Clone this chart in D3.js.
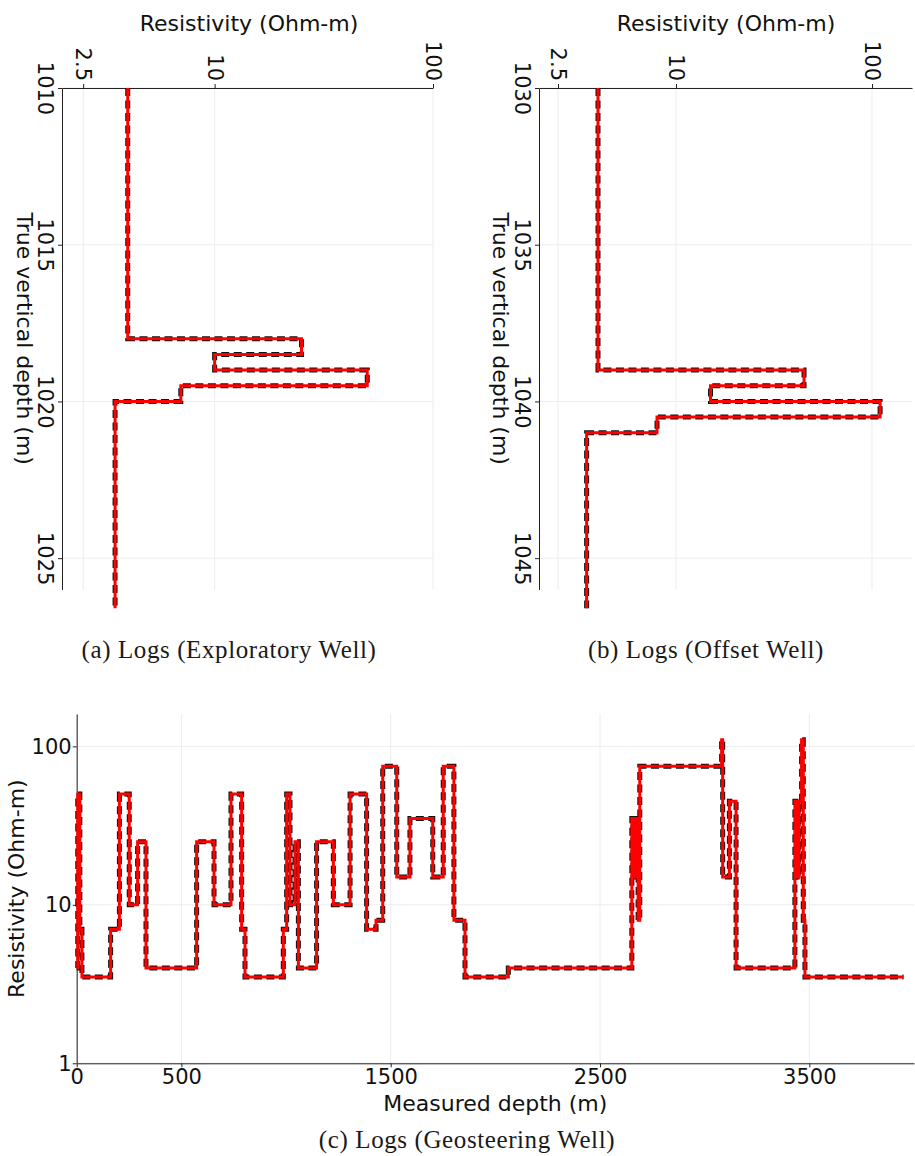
<!DOCTYPE html>
<html>
<head>
<meta charset="utf-8">
<script src="https://cdn.jsdelivr.net/npm/d3@7"></script>
<style>
  body { margin: 0; background: #fff; }
  svg { display: block; }
  .tick text { font-family: "DejaVu Sans", sans-serif; font-size: 21px; fill: #111; }
  .tick line { stroke: #222; }
  .domain { stroke: #222; }
</style>
</head>
<body>
<svg id="chart" width="915" height="1156"></svg>
<script>
// Exploratory well: resistivity holds from each top depth down to the next one
const tvdExploratory = [1010, 1018, 1018.5, 1019, 1019.5, 1020, 1026.6];
const resExploratory = [4, 25, 10, 50, 7, 3.5, 3.5];

// Offset well
const tvdOffset = [1030, 1039, 1039.5, 1040, 1040.5, 1041, 1046.6];
const resOffset = [4, 45, 15, 110, 8, 3.5, 3.5];

// Geosteering well, resistivity against measured depth (step after each depth)
const mdGeo = [0, 5, 15, 25, 162, 204, 251, 291, 331, 573, 656, 737, 788, 804,
  987, 1003, 1019, 1043, 1059, 1146, 1226, 1306, 1385, 1430, 1462, 1529, 1592,
  1701, 1751, 1802, 1855, 2062, 2652, 2657, 2662, 2667, 2672, 2677, 2682, 2690,
  3081, 3086, 3118, 3150, 3431, 3436, 3441, 3446, 3451, 3463, 3471, 3479, 3950];
const resGeo = [4, 50, 7, 3.5, 7, 50, 10, 25, 4, 25, 10, 50, 7, 3.5,
  7, 50, 10, 25, 4, 25, 10, 50, 7, 8, 75, 15, 35,
  15, 75, 8, 3.5, 4, 35, 15, 35, 15, 35, 15, 8, 75,
  110, 15, 45, 4, 45, 15, 45, 15, 45, 110, 8, 3.5, 3.5];

// Tick values
const resTicksWell = [2.5, 10, 100];
const tvdTicksExploratory = [1010, 1015, 1020, 1025];
const tvdTicksOffset = [1030, 1035, 1040, 1045];
const mdTicks = [0, 500, 1500, 2500, 3500];
const resTicksGeo = [1, 10, 100];

const svg = d3.select("#chart");
const GRID = "#ececec";
const SANS = "DejaVu Sans, sans-serif";
const SERIF = "Liberation Serif, serif";

function drawLog(g, pathD) {
  // reference log: wide black dashes underneath
  g.append("path").attr("d", pathD).attr("fill", "none")
    .attr("stroke", "#111").attr("stroke-width", 5)
    .attr("stroke-dasharray", "8 4.5");
  // estimated log: red line on top
  g.append("path").attr("d", pathD).attr("fill", "none")
    .attr("stroke", "#ff0000").attr("stroke-width", 3);
}

function wellPanel(o) {
  const x = d3.scaleLog().domain(o.resDomain).range([o.left, o.right]);
  const y = d3.scaleLinear().domain(o.tvdDomain).range([o.top, o.bottom]);
  const g = svg.append("g");

  // grid
  g.append("g").selectAll("line").data(resTicksWell).join("line")
    .attr("x1", d => x(d)).attr("x2", d => x(d))
    .attr("y1", o.top).attr("y2", o.bottom)
    .attr("stroke", GRID).attr("stroke-width", 1);
  g.append("g").selectAll("line").data(o.tvdTicks).join("line")
    .attr("x1", o.left).attr("x2", o.right)
    .attr("y1", d => y(d)).attr("y2", d => y(d))
    .attr("stroke", GRID).attr("stroke-width", 1);

  // resistivity axis along the top, labels turned a quarter clockwise
  const ax = g.append("g").attr("transform", `translate(0,${o.top})`)
    .call(d3.axisTop(x).tickValues(resTicksWell).tickFormat(d => String(d))
      .tickSize(4).tickSizeOuter(0));
  ax.selectAll(".tick text")
    .attr("x", 0).attr("y", 0).attr("dy", "0.36em")
    .attr("text-anchor", "end")
    .attr("transform", "translate(0,-7) rotate(90)");

  // depth axis on the left
  const ay = g.append("g").attr("transform", `translate(${o.left},0)`)
    .call(d3.axisLeft(y).tickValues(o.tvdTicks).tickFormat(d => String(d))
      .tickSize(4).tickSizeOuter(0));
  ay.selectAll(".tick text")
    .attr("x", 0).attr("y", 0).attr("dy", "0.36em")
    .attr("text-anchor", "middle")
    .attr("transform", "translate(-16,0) rotate(90)");

  // titles
  g.append("text").attr("x", o.titleX).attr("y", 31)
    .attr("text-anchor", "middle").attr("font-family", SANS).attr("font-size", 22)
    .attr("fill", "#111").text("Resistivity (Ohm-m)");
  g.append("text")
    .attr("transform", `translate(${o.depthTitleX},${(o.top + o.bottom) / 2}) rotate(90)`)
    .attr("text-anchor", "middle").attr("dy", "0.36em")
    .attr("font-family", SANS).attr("font-size", 22).attr("fill", "#111")
    .text("True vertical depth (m)");

  // log curve
  const line = d3.line().x((d, i) => x(o.res[i])).y(d => y(d)).curve(d3.curveStepBefore);
  drawLog(g, line(o.tvd));

  // caption
  g.append("text").attr("x", o.captionX).attr("y", 658)
    .attr("text-anchor", "middle").attr("font-family", SERIF).attr("font-size", 25)
    .attr("letter-spacing", 0.6).attr("fill", "#1a1a1a").text(o.caption);
}

wellPanel({
  left: 62, right: 433, top: 88, bottom: 589.5,
  resDomain: [2, 100], tvdDomain: [1010, 1026],
  tvd: tvdExploratory, res: resExploratory, tvdTicks: tvdTicksExploratory,
  titleX: 249, depthTitleX: 25, captionX: 229,
  caption: "(a) Logs (Exploratory Well)"
});

wellPanel({
  left: 539, right: 912, top: 88, bottom: 589.5,
  resDomain: [2, 160], tvdDomain: [1030, 1046],
  tvd: tvdOffset, res: resOffset, tvdTicks: tvdTicksOffset,
  titleX: 726, depthTitleX: 501, captionX: 706,
  caption: "(b) Logs (Offset Well)"
});

// Geosteering well panel
(function () {
  const left = 76.7, right = 914, top = 714, bottom = 1063.3;
  const x = d3.scaleLinear().domain([0, 4000]).range([left, right]);
  const y = d3.scaleLog().domain([1, 160]).range([bottom, top]);
  const g = svg.append("g");

  g.append("g").selectAll("line").data(mdTicks).join("line")
    .attr("x1", d => x(d)).attr("x2", d => x(d))
    .attr("y1", top).attr("y2", bottom)
    .attr("stroke", GRID).attr("stroke-width", 1);
  g.append("g").selectAll("line").data(resTicksGeo).join("line")
    .attr("x1", left).attr("x2", right)
    .attr("y1", d => y(d)).attr("y2", d => y(d))
    .attr("stroke", GRID).attr("stroke-width", 1);

  const ax = g.append("g").attr("transform", `translate(0,${bottom})`)
    .call(d3.axisBottom(x).tickValues(mdTicks).tickFormat(d => String(d))
      .tickSize(4).tickSizeOuter(0));
  ax.select(".domain").attr("stroke", "#444");
  ax.selectAll(".tick text").attr("y", 6);

  const ay = g.append("g").attr("transform", `translate(${left},0)`)
    .call(d3.axisLeft(y).tickValues(resTicksGeo).tickFormat(d => String(d))
      .tickSize(4).tickSizeOuter(0));
  ay.selectAll(".tick text").attr("x", -5);

  g.append("text").attr("x", (left + right) / 2).attr("y", 1111)
    .attr("text-anchor", "middle").attr("font-family", SANS).attr("font-size", 22)
    .attr("fill", "#111").text("Measured depth (m)");
  g.append("text")
    .attr("transform", `translate(16,${(top + bottom) / 2}) rotate(-90)`)
    .attr("text-anchor", "middle").attr("dy", "0.36em")
    .attr("font-family", SANS).attr("font-size", 22).attr("fill", "#111")
    .text("Resistivity (Ohm-m)");

  const line = d3.line().x(d => x(d)).y((d, i) => y(resGeo[i])).curve(d3.curveStepAfter);
  drawLog(g, line(mdGeo));

  g.append("text").attr("x", 467).attr("y", 1148)
    .attr("text-anchor", "middle").attr("font-family", SERIF).attr("font-size", 25)
    .attr("letter-spacing", 0.6).attr("fill", "#1a1a1a").text("(c) Logs (Geosteering Well)");
})();
</script>
</body>
</html>
